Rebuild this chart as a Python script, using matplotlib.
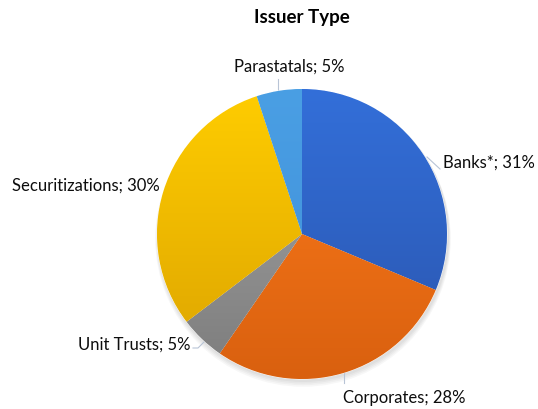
import numpy as np
import matplotlib
matplotlib.use("Agg")
import matplotlib.pyplot as plt
from matplotlib.colors import LinearSegmentedColormap

categories = ["Banks*", "Corporates", "Unit Trusts", "Securitizations", "Parastatals"]
values = [31, 28, 5, 30, 5]
title = "Issuer Type"

top_colors = ["#336fd9", "#ff7d1c", "#a8a8a8", "#ffcd00", "#4a9fe4"]
bot_colors = ["#2a55ae", "#d9600f", "#7c7c7c", "#dca300", "#3f8ed8"]

W, H = 538, 409
fig = plt.figure(figsize=(W / 100, H / 100), dpi=100)
ax = fig.add_axes([0, 0, 1, 1])
ax.set_xlim(0, W)
ax.set_ylim(0, H)
ax.set_aspect("equal")
ax.axis("off")

cx, cy, r = 302, H - 234, 145

# soft shadow
for i, a in enumerate([0.03, 0.03, 0.03, 0.03]):
    sh = plt.Circle((cx + 1, cy - 2 - i), r + 1 + i * 0.6, color="#000000", alpha=a, lw=0, zorder=0)
    ax.add_patch(sh)

wedges, _ = ax.pie(values, startangle=90, counterclock=False, center=(cx, cy), radius=r,
                   wedgeprops=dict(linewidth=0.6, edgecolor="white"), frame=True)
ax.set_xlim(0, W)
ax.set_ylim(0, H)
ax.axis("off")

grad = np.linspace(1, 0, 256).reshape(-1, 1)
for w, tc, bc in zip(wedges, top_colors, bot_colors):
    w.set_facecolor(tc)
    cmap = LinearSegmentedColormap.from_list("g", [bc, tc])
    im = ax.imshow(grad, cmap=cmap, extent=(cx - r, cx + r, cy - r, cy + r),
                   origin="upper", aspect="auto", zorder=w.get_zorder() + 0.1, vmin=0, vmax=1)
    im.set_clip_path(w)

font = "Lato"
ax.text(302, H - 18, title, ha="center", va="center", fontsize=13.5, fontweight="bold",
        family=font, color="#000000")

label_pos = {
    "Banks*": (443, 163, "left"),
    "Corporates": (343, 398, "left"),
    "Unit Trusts": (190, 345, "right"),
    "Securitizations": (160, 186, "right"),
    "Parastatals": (289, 67, "center"),
}
leaders = {
    "Banks*": [(440, 169), (427, 157)],
    "Corporates": [(344, 383), (344, 372)],
    "Unit Trusts": [(193, 348), (198, 348), (205, 341)],
    "Parastatals": [(278, 79), (278, 92)],
}
for cat, v in zip(categories, values):
    x, y, ha = label_pos[cat]
    ax.text(x, H - y, f"{cat}; {v}%", ha=ha, va="center", fontsize=12, family=font,
            color="#0d0d0d")
    if cat in leaders:
        pts = leaders[cat]
        ax.plot([p[0] for p in pts], [H - p[1] for p in pts], color="#b8c4d6", lw=0.8, zorder=0.5)

fig.savefig("out.png", dpi=100)
